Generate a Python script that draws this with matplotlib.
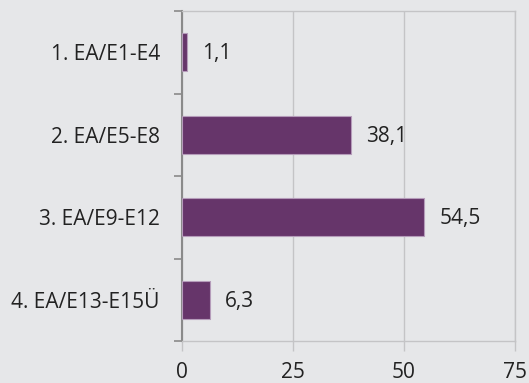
import matplotlib
matplotlib.use("Agg")
import matplotlib.pyplot as plt
import numpy as np

categories = ["1. EA/E1-E4", "2. EA/E5-E8", "3. EA/E9-E12", "4. EA/E13-E15Ü"]
values = [1.1, 38.1, 54.5, 6.3]
value_labels = ["1,1", "38,1", "54,5", "6,3"]
xticks = [0, 25, 50, 75]

bg = "#e6e7e9"
bar_color = "#66356a"
edge_color = "#b59cba"
text_color = "#222222"

plt.rcParams['font.family'] = ['Open Sans', 'DejaVu Sans']

fig = plt.figure(figsize=(5.29, 3.83), dpi=100, facecolor=bg)
ax = fig.add_axes([182/529, 1 - 341/383, (515-182)/529, (341-11)/383])
ax.set_facecolor(bg)

y = np.arange(len(categories))
ax.barh(y, values, height=0.46, color=bar_color, edgecolor=edge_color, linewidth=0.8, zorder=3)
ax.set_ylim(len(categories) - 0.5, -0.5)
ax.set_xlim(0, 75)

for yi, v, lab in zip(y, values, value_labels):
    ax.annotate(lab, (v, yi), xytext=(11, -1), textcoords="offset points",
                va="center", ha="left", fontsize=15, color=text_color)

ax.set_yticks(np.arange(-0.5, len(categories), 1.0))
ax.set_yticklabels([])
ax.set_yticks(y, minor=True)
ax.set_yticklabels(categories, minor=True, fontsize=15, color=text_color)
ax.tick_params(axis="y", which="major", length=6, width=1.2, color="#8a8a8a", direction="out")
ax.tick_params(axis="y", which="minor", length=0, pad=16)

ax.set_xticks(xticks)
ax.set_xticklabels([str(t) for t in xticks], fontsize=15, color=text_color)
ax.tick_params(axis="x", length=7, width=1, color="#c4c4c6", pad=8)

ax.grid(axis="x", color="#c4c4c6", linewidth=1, zorder=0)
ax.grid(axis="y", visible=False)

ax.spines["left"].set_color("#8a8a8a")
ax.spines["left"].set_linewidth(1.5)
for s in ["top", "right", "bottom"]:
    ax.spines[s].set_color("#c4c4c6")
    ax.spines[s].set_linewidth(1)

fig.savefig("out.png", dpi=100, facecolor=bg)
